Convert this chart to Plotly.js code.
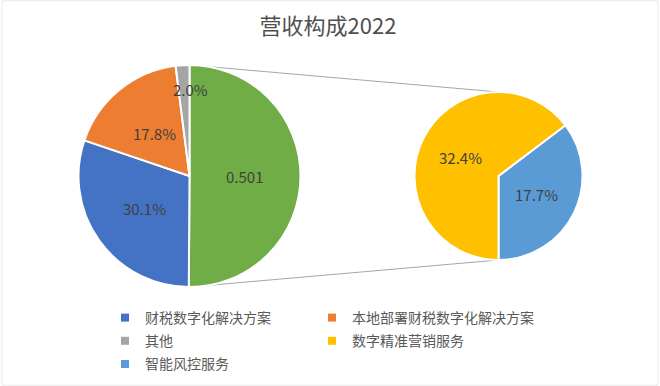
<!DOCTYPE html>
<html><head><meta charset="utf-8">
<script src="https://cdn.plot.ly/plotly-3.0.1.min.js"></script>
<style>html,body{margin:0;padding:0;background:#fff}#c{width:660px;height:386px}</style>
</head><body><div id="c"></div>
<script>
// ---- data ----
const mainLabels = ["合计", "财税数字化解决方案", "本地部署财税数字化解决方案", "其他"];
const mainValues = [50.1, 30.1, 17.8, 2.0];
const subLabels = ["智能风控服务", "数字精准营销服务"];
const subValues = [17.7, 32.4];
const legendOrder = ["财税数字化解决方案", "本地部署财税数字化解决方案", "其他", "数字精准营销服务", "智能风控服务"];
const title = "营收构成2022";

// ---- style ----
const colors = {
  "合计": "#70AD47", "财税数字化解决方案": "#4472C4", "本地部署财税数字化解决方案": "#ED7D31",
  "其他": "#A5A5A5", "数字精准营销服务": "#FFC000", "智能风控服务": "#5B9BD5"
};
const W = 660, H = 386;
const mainPie = {cx: 189.5, cy: 176, r: 111};
const subPie = {cx: 498.5, cy: 176, r: 84};
const txtFont = {family: "Noto Sans CJK SC, Noto Sans, sans-serif", size: 15, color: "#404040"};
const legFont = {family: "Noto Sans CJK SC, sans-serif", size: 14, color: "#595959"};

function dom(p) {
  return {x: [(p.cx - p.r) / W, (p.cx + p.r) / W], y: [1 - (p.cy + p.r) / H, 1 - (p.cy - p.r) / H]};
}
const subSum = subValues.reduce((a, b) => a + b, 0);
const subRotation = 180 - 360 * subValues[0] / subSum;

const mainText = mainValues.map((v, i) => i === 0 ? (v / 100).toFixed(3) : v.toFixed(1) + "%");
const subText = subValues.map(v => v.toFixed(1) + "%");

const traces = [
  {type: "pie", labels: mainLabels, values: mainValues, sort: false, direction: "clockwise", rotation: 0,
   domain: dom(mainPie), marker: {colors: mainLabels.map(l => colors[l]), line: {color: "#fff", width: 2}},
   textinfo: "none", showlegend: false, hoverinfo: "label+value"},
  {type: "pie", labels: subLabels, values: subValues, sort: false, direction: "clockwise", rotation: subRotation,
   domain: dom(subPie), marker: {colors: subLabels.map(l => colors[l]), line: {color: "#fff", width: 2}},
   textinfo: "none", showlegend: false, hoverinfo: "label+value"}
];
// legend entries laid out in two columns: even index -> left column, odd -> right column
legendOrder.forEach((l, i) => traces.push({type: "scatter", mode: "markers", x: [null], y: [null], name: l,
  legend: i % 2 === 0 ? "legend" : "legend2", legendgroup: "g" + i,
  marker: {symbol: "square", size: 8, color: colors[l]}, hoverinfo: "skip"}));

// labels positioned from slice angles
const annotations = [];
function addLabels(p, values, texts, rot) {
  const tot = values.reduce((a, b) => a + b, 0);
  let acc = rot;
  values.forEach((v, i) => {
    const span = 360 * v / tot;
    const mid = (acc + span / 2) * Math.PI / 180;
    const small = v / tot < 0.05;
    const frac = small ? 0.78 : 0.5;
    const x = p.cx + Math.sin(mid) * p.r * frac + (small ? 6 : 0);
    const y = p.cy - Math.cos(mid) * p.r * frac;
    annotations.push({xref: "paper", yref: "paper", x: x / W, y: 1 - y / H, text: texts[i], showarrow: false,
      xanchor: "center", yanchor: "middle", font: txtFont});
    acc += span;
  });
}
addLabels(mainPie, mainValues, mainText, 0);
addLabels(subPie, subValues, subText, subRotation);

const lineStyle = {color: "#A6A6A6", width: 1};
const shapes = [
  {type: "line", xref: "paper", yref: "paper", x0: mainPie.cx / W, y0: 1 - (mainPie.cy - mainPie.r) / H,
   x1: subPie.cx / W, y1: 1 - (subPie.cy - subPie.r) / H, line: lineStyle, layer: "below"},
  {type: "line", xref: "paper", yref: "paper", x0: mainPie.cx / W, y0: 1 - (mainPie.cy + mainPie.r) / H,
   x1: subPie.cx / W, y1: 1 - (subPie.cy + subPie.r) / H, line: lineStyle, layer: "below"},
  {type: "rect", xref: "paper", yref: "paper", x0: 0.003, y0: 0.002, x1: 0.997, y1: 0.998,
   line: {color: "#E8E8E8", width: 1}}
];

const legBase = {orientation: "v", xanchor: "left", y: 1 - 302 / H, yanchor: "top", traceorder: "grouped",
  tracegroupgap: 2, font: legFont, bgcolor: "rgba(0,0,0,0)"};
const layout = {
  width: W, height: H, margin: {l: 0, r: 0, t: 0, b: 0}, paper_bgcolor: "#fff", plot_bgcolor: "#fff",
  title: {text: title, x: 0.497, xanchor: "center", y: 1 - 26 / H, yref: "container", yanchor: "middle",
    font: {family: "Noto Sans CJK SC, sans-serif", size: 22, color: "#505050"}},
  xaxis: {visible: false}, yaxis: {visible: false},
  showlegend: true,
  legend: Object.assign({}, legBase, {x: 105 / W}),
  legend2: Object.assign({}, legBase, {x: 312 / W}),
  annotations: annotations, shapes: shapes
};
Plotly.newPlot("c", traces, layout, {displayModeBar: false, staticPlot: true});
</script></body></html>
